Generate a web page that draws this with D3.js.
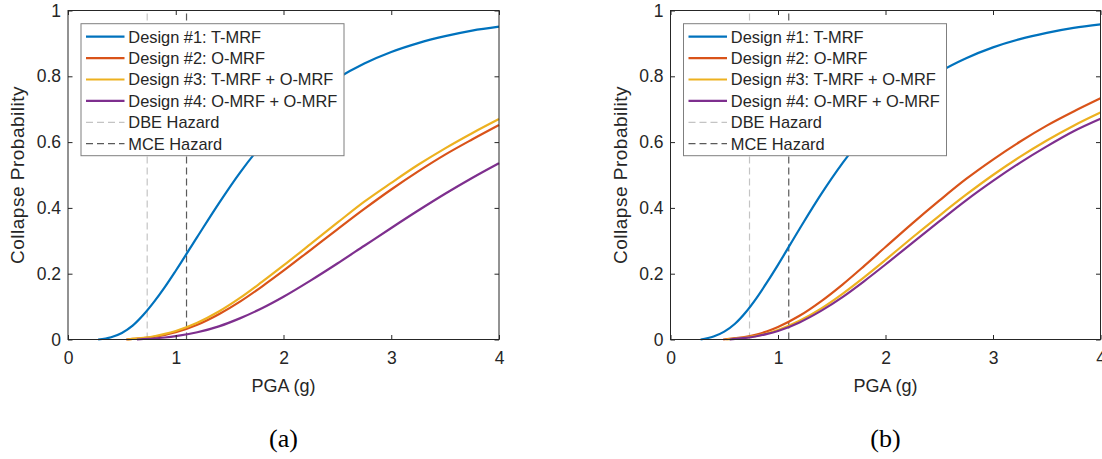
<!DOCTYPE html>
<html>
<head>
<meta charset="utf-8">
<script src="https://cdn.jsdelivr.net/npm/d3@7"></script>
<style>
  body { margin: 0; background: white; }
  svg { display: block; }
  text { font-family: "Liberation Sans", Arial, Helvetica, sans-serif; fill: #262626; }
</style>
</head>
<body>
<svg width="1102" height="459"></svg>
<script>
const svg = d3.select("svg")

// PGA grid (g) shared by all curves
const pga = [0.4, 0.5, 0.6, 0.7, 0.8, 0.9, 1.0, 1.2, 1.4, 1.6, 1.8, 2.0, 2.25, 2.5, 2.75, 3.0, 3.25, 3.5, 3.75, 4.0]

// panel (a) collapse probabilities
const a_tmrf   = [0.007, 0.020, 0.042, 0.075, 0.115, 0.160, 0.209, 0.312, 0.414, 0.509, 0.592, 0.663, 0.736, 0.794, 0.839, 0.874, 0.901, 0.922, 0.939, 0.951]
const a_omrf   = [null, null, 0.002, 0.004, 0.008, 0.014, 0.022, 0.045, 0.077, 0.116, 0.161, 0.209, 0.272, 0.335, 0.397, 0.456, 0.511, 0.562, 0.608, 0.652]
const a_tomrf  = [null, null, 0.002, 0.005, 0.010, 0.017, 0.026, 0.051, 0.085, 0.127, 0.175, 0.225, 0.290, 0.355, 0.419, 0.476, 0.531, 0.581, 0.627, 0.670]
const a_oomrf  = [null, null, null, 0.0015, 0.003, 0.006, 0.010, 0.022, 0.040, 0.065, 0.095, 0.130, 0.179, 0.231, 0.285, 0.339, 0.392, 0.443, 0.491, 0.536]
const a_start  = [0.28, 0.54, 0.55, 0.64]

// panel (b) collapse probabilities
const b_tmrf   = [0.009, 0.024, 0.048, 0.083, 0.126, 0.175, 0.227, 0.336, 0.441, 0.536, 0.619, 0.688, 0.758, 0.813, 0.855, 0.888, 0.913, 0.932, 0.947, 0.958]
const b_omrf   = [null, null, 0.004, 0.008, 0.015, 0.025, 0.038, 0.072, 0.116, 0.167, 0.223, 0.281, 0.353, 0.422, 0.488, 0.547, 0.601, 0.650, 0.693, 0.733]
const b_tomrf  = [null, null, 0.003, 0.006, 0.011, 0.019, 0.029, 0.057, 0.094, 0.139, 0.189, 0.242, 0.310, 0.376, 0.440, 0.500, 0.555, 0.605, 0.650, 0.690]
const b_oomrf  = [null, null, 0.002, 0.005, 0.010, 0.017, 0.026, 0.052, 0.087, 0.129, 0.177, 0.228, 0.294, 0.359, 0.423, 0.482, 0.537, 0.587, 0.633, 0.671]
const b_start  = [0.28, 0.49, 0.52, 0.55]

const labels = ["Design #1: T-MRF", "Design #2: O-MRF", "Design #3: T-MRF + O-MRF", "Design #4: O-MRF + O-MRF"]
const colors = ["#0072BD", "#D95319", "#EDB120", "#7E2F8E"]
const hazards = [0.735, 1.1]
const hazardLabels = ["DBE Hazard", "MCE Hazard"]
const hazardColors = ["#c4c4c4", "#5a5a5a"]
const xTicks = [0, 1, 2, 3, 4]
const yTicks = [0, 0.2, 0.4, 0.6, 0.8, 1]

function drawPanel(left, right, series, starts, caption) {
    const x = d3.scaleLinear().domain([0, 4]).range([left, right])
    const y = d3.scaleLinear().domain([0, 1]).range([339.5, 10.5])
    const g = svg.append("g")

    // hazard lines
    hazards.forEach((h, i) => {
        g.append("line")
            .attr("x1", x(h)).attr("x2", x(h))
            .attr("y1", y(0)).attr("y2", y(1))
            .attr("stroke", hazardColors[i])
            .attr("stroke-width", 1.2)
            .attr("stroke-dasharray", "7,4")
    })

    const line = d3.line()
        .x(d => x(d[0]))
        .y(d => y(d[1]))
        .curve(d3.curveMonotoneX)

    series.forEach((vals, i) => {
        const pts = [[starts[i], 0]]
        vals.forEach((v, j) => { if (v != null && pga[j] > starts[i]) pts.push([pga[j], v]) })
        g.append("path")
            .attr("d", line(pts))
            .attr("fill", "none")
            .attr("stroke", colors[i])
            .attr("stroke-width", 2.2)
    })

    // axes with inward ticks on all sides
    const ax = (a, tr, lab) => {
        const sel = g.append("g").attr("transform", tr).call(a)
        sel.select(".domain").remove()
        sel.selectAll("line").attr("stroke", "#262626")
        sel.selectAll("text").attr("font-size", "17.5px").attr("fill", "#262626")
        if (!lab) sel.selectAll("text").remove()
    }
    ax(d3.axisBottom(x).tickValues(xTicks).tickSize(-4.5).tickPadding(12).tickFormat(d3.format("d")), `translate(0,${y(0)})`, true)
    ax(d3.axisTop(x).tickValues(xTicks).tickSize(-4.5), `translate(0,${y(1)})`, false)
    ax(d3.axisLeft(y).tickValues(yTicks).tickSize(-4.5).tickPadding(7).tickFormat(d => d === 0 || d === 1 ? d : d.toFixed(1)), `translate(${left},0)`, true)
    ax(d3.axisRight(y).tickValues(yTicks).tickSize(-4.5), `translate(${right},0)`, false)

    g.append("rect")
        .attr("x", left).attr("y", y(1))
        .attr("width", right - left).attr("height", y(0) - y(1))
        .attr("fill", "none")
        .attr("stroke", "#262626")
        .attr("stroke-width", 1)

    // legend
    const lx = left + 13
    const leg = g.append("g")
    leg.append("rect")
        .attr("x", lx).attr("y", 23.7)
        .attr("width", 263).attr("height", 132)
        .attr("fill", "white")
        .attr("stroke", "#7f7f7f")
        .attr("stroke-width", 1)
    const items = labels.map((l, i) => ({ label: l, color: colors[i], dash: null }))
        .concat(hazardLabels.map((l, i) => ({ label: l, color: hazardColors[i], dash: "7,4" })))
    items.forEach((it, i) => {
        const ly = 36.7 + i * 21.4
        leg.append("line")
            .attr("x1", lx + 5).attr("x2", lx + 43.5)
            .attr("y1", ly).attr("y2", ly)
            .attr("stroke", it.color)
            .attr("stroke-width", it.dash ? 1.2 : 2.2)
            .attr("stroke-dasharray", it.dash)
        leg.append("text")
            .attr("x", lx + 47.3).attr("y", ly + 5.8)
            .attr("font-size", "16.4px")
            .text(it.label)
    })

    // axis titles
    g.append("text")
        .attr("x", (left + right) / 2).attr("y", 392)
        .attr("text-anchor", "middle")
        .attr("font-size", "18px")
        .text("PGA (g)")
    g.append("text")
        .attr("transform", `translate(${left - 44},${(y(0) + y(1)) / 2}) rotate(-90)`)
        .attr("text-anchor", "middle")
        .attr("font-size", "19px")
        .attr("letter-spacing", "0.5px")
        .text("Collapse Probability")

    g.append("text")
        .attr("x", (left + right) / 2).attr("y", 447)
        .attr("text-anchor", "middle")
        .style("font-family", '"Liberation Serif", "Times New Roman", serif')
        .style("fill", "black")
        .attr("font-size", "26px")
        .text(caption)
}

drawPanel(68, 499, [a_tmrf, a_omrf, a_tomrf, a_oomrf], a_start, "(a)")
drawPanel(670.5, 1100.5, [b_tmrf, b_omrf, b_tomrf, b_oomrf], b_start, "(b)")
</script>
</body>
</html>
